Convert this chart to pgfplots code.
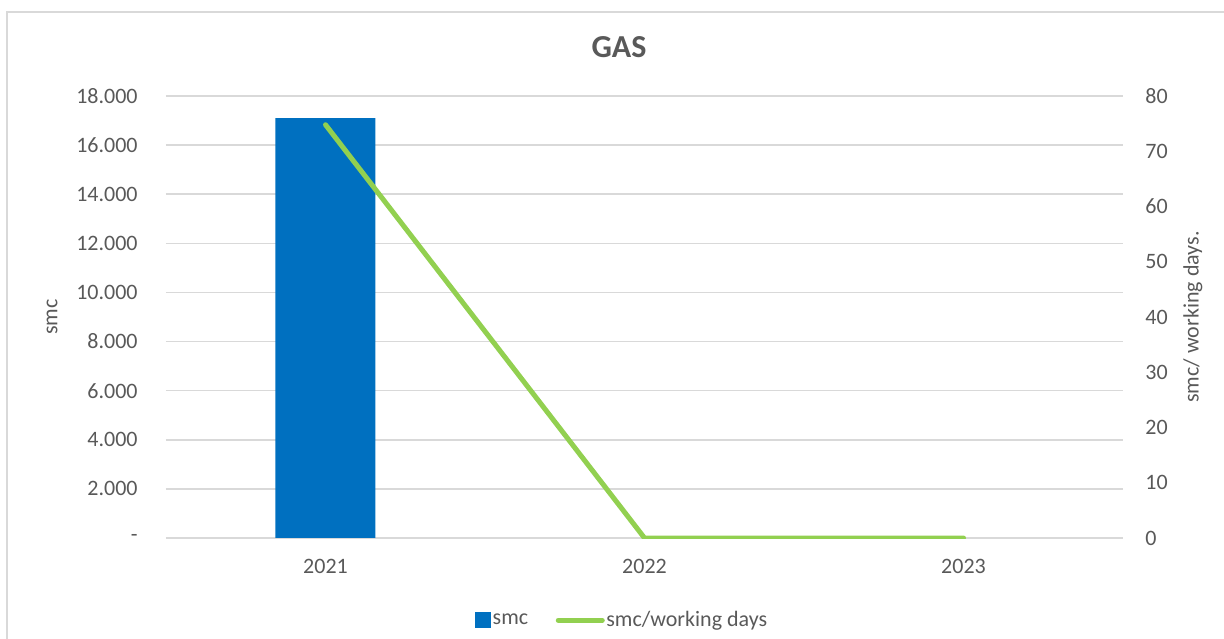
\documentclass[border=0pt]{standalone}
\usepackage{pgfplots}
\pgfplotsset{compat=1.18}
\usepackage{fontspec}
\setmainfont{Carlito}

\definecolor{barblue}{HTML}{0070C0}
\definecolor{linegreen}{HTML}{92D050}
\definecolor{gridgray}{HTML}{D9D9D9}
\definecolor{textgray}{HTML}{595959}

\newcommand{\tickfont}{\fontsize{11bp}{13bp}\selectfont}

\pgfplotsset{
    gascommon/.style={
        scale only axis,
        width=478.5bp,
        height=221bp,
        at={(0,0)},
        anchor=south west,
        xmin=-0.5, xmax=2.5,
        axis line style={draw=none},
        major tick length=0pt,
        tick style={draw=none},
        ticklabel style={font=\tickfont, text=textgray},
        label style={font=\tickfont, text=textgray},
    },
}

\begin{document}
\begin{tikzpicture}
    % frame of the chart area
    \draw[gridgray, line width=0.8bp] (-79.5bp,-60bp) rectangle (540bp,263bp);

    % bars, left axis
    \begin{axis}[
        gascommon,
        ymin=0, ymax=18000,
        ytick={0,2000,...,18000},
        scaled y ticks=false,
        yticklabels={-,2.000,4.000,6.000,8.000,10.000,12.000,14.000,16.000,18.000},
        ymajorgrids,
        grid style={gridgray, line width=0.75bp},
        xtick={0,1,2},
        xticklabels={2021,2022,2023},
        yticklabel style={anchor=east, inner sep=0pt, xshift=-14bp},
        xticklabel style={anchor=north, inner sep=0pt, yshift=-10.5bp},
        ylabel={smc},
        ylabel style={at={(axis description cs:-0.1191,0.5)}, anchor=center, rotate=0},
        title={GAS},
        title style={at={(axis description cs:0.4734,1)}, anchor=center, yshift=18.5bp,
            font=\fontsize{16bp}{19bp}\selectfont\bfseries, text=textgray},
        ybar,
        bar width=50bp,
    ]
        \addplot[fill=barblue, draw=none] coordinates {
            (0,17100)
            (1,0)
            (2,0)
        };
    \end{axis}

    % line, right axis
    \begin{axis}[
        gascommon,
        axis y line*=right,
        axis x line=none,
        ymin=0, ymax=80,
        ytick={0,10,...,80},
        /pgf/number format/assume math mode=true,
        yticklabel style={anchor=west, inner sep=0pt, xshift=11bp},
        ylabel={smc/ working days.},
        ylabel style={at={(axis description cs:1.0731,0.5)}, anchor=center, rotate=0},
        legend columns=2,
        legend style={
            at={(axis description cs:0.4765,-0.186)}, anchor=center,
            draw=none, fill=none, font=\tickfont, text=textgray,
            /tikz/every even column/.append style={column sep=13bp},
            nodes={inner sep=0.8bp},
        },
    ]
        \addlegendimage{legend image code/.code={\fill[barblue] (0bp,-3.5bp) rectangle (7.5bp,4bp);}}
        \addlegendentry{smc}
        \addplot[linegreen, line width=2.5bp, line cap=round, line join=round,
            legend image code/.code={\draw[linegreen, line width=2.5bp, line cap=round] (0bp,0bp) -- (22bp,0bp);}]
            coordinates {
            (0,74.8)
            (1,0)
            (2,0)
        };
        \addlegendentry{smc/working days}
    \end{axis}

    \pgfresetboundingbox
    \path (-83bp,-50.5bp) rectangle (529bp,269bp);
\end{tikzpicture}
\end{document}
